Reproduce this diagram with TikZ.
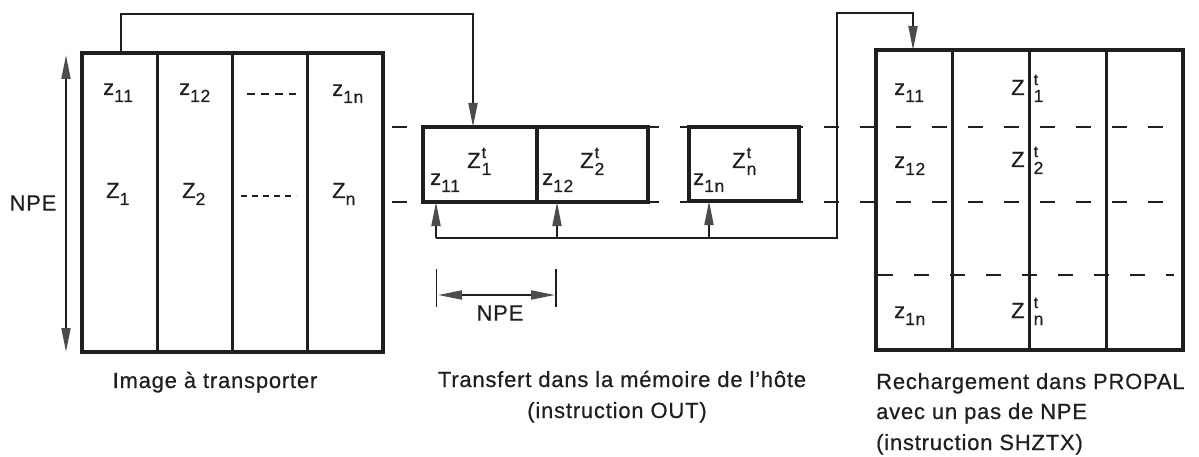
\documentclass[tikz,border=0pt]{standalone}
\usepackage{fontspec}
\setmainfont{Liberation Sans}[LetterSpace=3.6,FakeBold=0.6]
\usetikzlibrary{arrows.meta,calc}
\definecolor{ink}{gray}{0.12}
\definecolor{tipc}{gray}{0.30}
\newcommand\labsub[1]{\raisebox{-7pt}{\fontsize{17.5}{17.5}\selectfont #1}}
\newcommand\labz[1]{z\labsub{#1}}
\newcommand\labZ[1]{Z\labsub{#1}}
\newcommand\labZt[2][1pt]{Z\hspace{#1}\makebox[0pt][l]{\raisebox{10pt}{\fontsize{16}{16}\selectfont t}}\labsub{#2}}
\begin{document}
\begin{tikzpicture}[x=1pt,y=-1pt,
  every node/.style={font=\fontsize{22}{30}\selectfont, inner sep=0pt, text=ink},
  frame/.style={draw=ink, line width=3.4pt, outer sep=0pt, inner sep=0pt},
  divider/.style={draw=ink, line width=2.8pt},
  conn/.style={draw=ink, line width=1.8pt},
  tipped/.style={-{Triangle[length=24pt,width=9pt,color=tipc,fill=tipc]}},
  tipboth/.style={{Triangle[length=24pt,width=9pt,color=tipc,fill=tipc]}-{Triangle[length=24pt,width=9pt,color=tipc,fill=tipc]}},
  guide/.style={draw=ink, line width=2pt, dash pattern=on 15pt off 21pt},
  dotsa/.style={draw=ink, line width=1.3pt, dash pattern=on 8pt off 6pt},
  dotsb/.style={draw=ink, line width=1.3pt, dash pattern=on 6pt off 5pt},
]
\useasboundingbox (0,0) rectangle (1199,457);

% main frames
\node[frame, minimum width=301pt, minimum height=299pt] (L) at (232.5,202.5) {};
\node[frame, minimum width=307pt, minimum height=300pt] (R) at (1029.5,200) {};

% guide lines
\draw[guide] (392,127) -- (1176,127);
\draw[guide] (392,202) -- (1176,202);
\draw[guide] (878,275) -- (1174,275);

% column dividers
\foreach \f in {0.25,0.5,0.75} {
  \draw[divider] ($(L.north west)!\f!(L.north east)$) -- ($(L.south west)!\f!(L.south east)$);
  \draw[divider] ($(R.north west)!\f!(R.north east)$) -- ($(R.south west)!\f!(R.south east)$);
}

% middle boxes
\node[frame, fill=white, minimum width=114pt, minimum height=75pt] (M1) at (480,164.5) {};
\node[frame, fill=white, minimum width=111pt, minimum height=75pt] (M2) at (592.5,164.5) {};
\node[frame, fill=white, minimum width=110pt, minimum height=74pt] (M3) at (744,164) {};

% labels left frame
\node[anchor=base west] (l11) at (103,95) {\labz{11}};
\node[anchor=base west] (l12) at (179,95) {\labz{12}};
\node[anchor=base west] (l1n) at (332,96) {\labz{1n}};
\node[anchor=base west] (lZ1) at (106,198) {\labZ{1}};
\node[anchor=base west] (lZ2) at (182,198) {\labZ{2}};
\node[anchor=base west] (lZn) at (332,198) {\labZ{n}};
\draw[dotsa] (247,94) -- (296,94);
\draw[dotsb] (241,196) -- (296,196);

% labels middle boxes
\node[anchor=base west] (m11) at (430,185) {\labz{11}};
\node[anchor=base west] (mZ1) at (467,168) {\labZt{1}};
\node[anchor=base west] (m12) at (542,185) {\labz{12}};
\node[anchor=base west] (mZ2) at (580,168) {\labZt{2}};
\node[anchor=base west] (m1n) at (693,185) {\labz{1n}};
\node[anchor=base west] (mZn) at (732,168) {\labZt{n}};

% labels right frame
\node[anchor=base west] (r11) at (894,95) {\labz{11}};
\node[anchor=base west] (r12) at (894,168) {\labz{12}};
\node[anchor=base west] (r1n) at (894,318) {\labz{1n}};
\node[anchor=base west] (rZ1) at (1011,95) {\labZt[9pt]{1}};
\node[anchor=base west] (rZ2) at (1011,167) {\labZt[9pt]{2}};
\node[anchor=base west] (rZn) at (1011,318) {\labZt[9pt]{n}};

% transfer connector
\coordinate (c1) at (121,14);
\draw[conn,tipped] (L.north -| c1) -- (c1) -| ([xshift=-7pt]M1.north);

% reload bus
\coordinate (b1) at (436,238);
\coordinate (b2) at (557,238);
\coordinate (b3) at (709,238);
\coordinate (b4) at (837,238);
\coordinate (c2) at (837,13);
\draw[conn,tipped] (b1) -- (b4) -- (c2) -| ([xshift=-116.5pt]R.north);
\draw[conn,tipped] (b1) -- (b1 |- M1.south);
\draw[conn,tipped] (b2) -- (b2 |- M2.south);
\draw[conn,tipped] (b3) -- (b3 |- M3.south);

% NPE vertical dimension
\coordinate (v1) at (66,55);
\coordinate (v2) at (66,352);
\draw[conn,tipboth] (v1) -- (v2);
\node (npeL) at (33,203) {NPE};

% NPE horizontal dimension
\coordinate (d1) at (436.5,269);
\coordinate (d2) at (556,269);
\coordinate (h1) at (438,295);
\coordinate (h2) at (555,295);
\draw[conn] (d1) -- ++(0,38);
\draw[conn] (d2) -- ++(0,38);
\draw[conn,tipboth] (h1) -- (h2);
\node (npeH) at (500,313) {NPE};

% captions
\node[anchor=base] (cap1) at (215,388) {Image à transporter};
\node[anchor=base] (cap2a) at (622,387) {Transfert dans la mémoire de l’hôte};
\node[anchor=base] (cap2b) at (617,418) {(instruction OUT)};
\node[anchor=base west] (cap3a) at (876,389) {Rechargement dans PROPAL};
\node[anchor=base west] (cap3b) at (876,419) {avec un pas de NPE};
\node[anchor=base west] (cap3c) at (876,450) {(instruction SHZTX)};
\end{tikzpicture}
\end{document}
